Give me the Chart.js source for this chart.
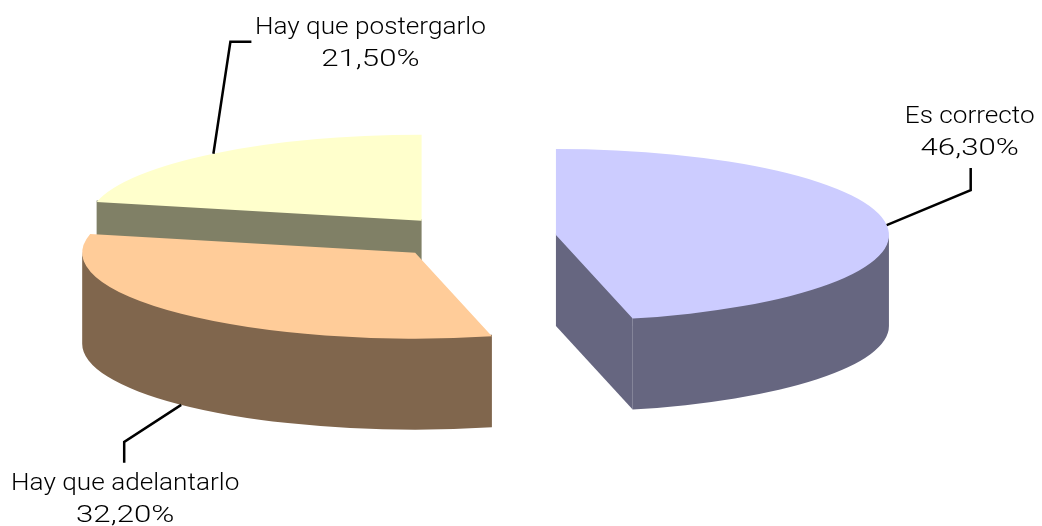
<!DOCTYPE html>
<html>
<head>
<meta charset="utf-8">
<title>Pie</title>
<script src="https://cdn.jsdelivr.net/npm/chart.js@4/dist/chart.umd.js"></script>
<style>
  html, body { margin: 0; padding: 0; background: #fff; }
  canvas { display: block; }
</style>
</head>
<body>
<canvas id="pieChart" width="1042" height="526"></canvas>
<script>
const categories = ["Es correcto", "Hay que adelantarlo", "Hay que postergarlo"];
const shares = [46.3, 32.2, 21.5];
const topColors = ["#CCCCFF", "#FFCC99", "#FFFFCC"];
const wallColors = ["#666680", "#80664D", "#808066"];

const squash = 0.258;   // tilt of the pie, 86/333
const depth = 91;       // height of the walls on screen
const explode = 83;     // how far each slice moves out
const labelFont = '300 24px Roboto';
const nameStretch = 1.09;     // the original face is wider than Roboto
const percentStretch = 1.3;
const lineGap = 32;

// elbow of each leader and the label position, relative to the rim point of the slice
const leaders = [
  { elbow: [[84, -35], [84, -57]], text: [83, -102], wall: false },
  { elbow: [[-57, 37], [-57, 58]], text: [-56, 85], wall: true },
  { elbow: [[17, -112], [38, -112]], text: [157, -120], wall: false }
];

function arcOf(chart) {
  return chart.getDatasetMeta(0).data;
}

// percent with a comma, the way the original prints it
function percentText(v) {
  return v.toFixed(2).replace('.', ',') + '%';
}

function wideText(ctx, text, x, y, stretch) {
  ctx.save();
  ctx.translate(x, y);
  ctx.scale(stretch, 1);
  ctx.fillText(text, 0, 0);
  ctx.restore();
}

function fillRimWall(ctx, arc, from, to, drop, lift) {
  if (to <= from) return;
  ctx.beginPath();
  ctx.arc(arc.x, arc.y - lift, arc.outerRadius, from, to);
  ctx.arc(arc.x, arc.y + drop, arc.outerRadius, to, from, true);
  ctx.closePath();
  ctx.fill();
}

function fillRadialWall(ctx, arc, angle, drop, lift) {
  const rx = arc.x + Math.cos(angle) * arc.outerRadius;
  const ry = arc.y + Math.sin(angle) * arc.outerRadius;
  ctx.beginPath();
  ctx.moveTo(arc.x, arc.y - lift);
  ctx.lineTo(rx, ry - lift);
  ctx.lineTo(rx, ry + drop);
  ctx.lineTo(arc.x, arc.y + drop);
  ctx.closePath();
  ctx.fill();
}

const pie3d = {
  id: 'pie3d',
  afterDatasetsUpdate(chart) {
    arcOf(chart).forEach(arc => {
      const mid = (arc.startAngle + arc.endAngle) / 2;
      arc.x += Math.cos(mid) * explode;
      arc.y += Math.sin(mid) * explode;
    });
  },
  beforeDatasetsDraw(chart) {
    const ctx = chart.ctx;
    const area = chart.chartArea;
    const cy = (area.top + area.bottom) / 2;
    ctx.save();
    ctx.translate(0, cy);
    ctx.scale(1, squash);
    ctx.translate(0, -cy);

    const drop = depth / squash;
    const lift = 1.5 / squash;   // tuck the wall under the top face, no white seam

    // walls first, back slice to front, the top faces come over them
    [2, 1, 0].forEach(i => {
      const arc = arcOf(chart)[i];
      ctx.fillStyle = wallColors[i];

      // only the faces that look at the viewer
      if (Math.sin(arc.startAngle - Math.PI / 2) > 0.001) fillRadialWall(ctx, arc, arc.startAngle, drop, lift);
      if (Math.sin(arc.endAngle + Math.PI / 2) > 0.001) fillRadialWall(ctx, arc, arc.endAngle, drop, lift);
      fillRimWall(ctx, arc, Math.max(arc.startAngle, 0), Math.min(arc.endAngle, Math.PI), drop, lift);
    });
  },
  afterDatasetsDraw(chart) {
    const ctx = chart.ctx;
    ctx.restore();

    const area = chart.chartArea;
    const cy = (area.top + area.bottom) / 2;
    ctx.save();
    ctx.strokeStyle = '#000';
    ctx.lineWidth = 2.5;
    ctx.fillStyle = '#000';
    ctx.font = labelFont;
    ctx.textAlign = 'center';
    ctx.textBaseline = 'alphabetic';

    arcOf(chart).forEach((arc, i) => {
      const mid = (arc.startAngle + arc.endAngle) / 2;
      const rimX = arc.x + Math.cos(mid) * arc.outerRadius;
      let rimY = cy + (arc.y + Math.sin(mid) * arc.outerRadius - cy) * squash;
      if (leaders[i].wall) rimY += depth;

      ctx.beginPath();
      ctx.moveTo(rimX, rimY);
      leaders[i].elbow.forEach(p => ctx.lineTo(rimX + p[0], rimY + p[1]));
      ctx.stroke();

      const tx = rimX + leaders[i].text[0];
      const ty = rimY + leaders[i].text[1];
      wideText(ctx, categories[i], tx, ty, nameStretch);
      wideText(ctx, percentText(shares[i]), tx, ty + lineGap, percentStretch);
    });
    ctx.restore();
  }
};

new Chart(document.getElementById('pieChart'), {
  type: 'pie',
  data: {
    labels: categories,
    datasets: [{
      data: shares,
      backgroundColor: topColors,
      borderWidth: 0,
      radius: 333,
      clip: false
    }]
  },
  options: {
    responsive: false,
    animation: false,
    layout: { padding: { right: 95, bottom: 51 } },
    plugins: { legend: { display: false }, tooltip: { enabled: false } }
  },
  plugins: [pie3d]
});
</script>
</body>
</html>
